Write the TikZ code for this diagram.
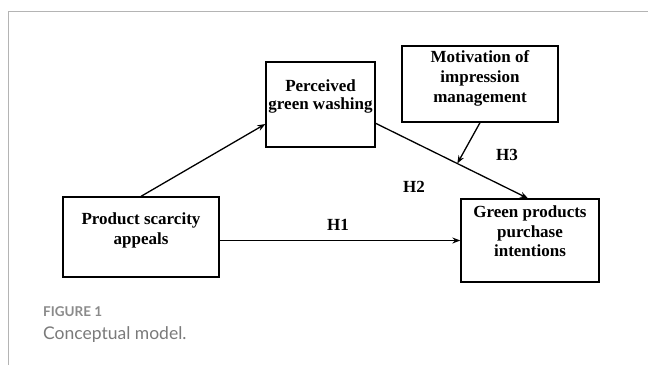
\documentclass[tikz,border=0pt]{standalone}
\usepackage{fontspec}
\setmainfont{Liberation Serif}
\newfontfamily\capfont{Lato}
\usetikzlibrary{arrows.meta}
\definecolor{framegray}{HTML}{B4B4B4}
\definecolor{capgray}{HTML}{8A8A8A}
\definecolor{capgrayb}{HTML}{7A7A7A}
\tikzset{
  box/.style={draw=black, line width=1.3pt, rectangle, inner sep=0pt},
  lbl/.style={font=\fontsize{17}{19.5}\selectfont\bfseries, align=center, inner sep=0pt, anchor=base},
  hyp/.style={font=\fontsize{17}{19.5}\selectfont\bfseries, inner sep=0pt, anchor=base west},
  arr/.style={draw=black, line width=1.3pt, -{Stealth[length=8pt,width=6pt]}},
  frame/.style={draw=framegray, line width=1.3pt}
}
\begin{document}
\begin{tikzpicture}[x=1pt,y=-1pt]
\useasboundingbox (0,0) rectangle (648,365);
% frame
\coordinate (fr1) at (8.5,365);
\coordinate (fr2) at (8.5,11.7);
\coordinate (fr3) at (648,11.7);
\draw[frame] (fr1) -- (fr2) -- (fr3);
% boxes
\node[box, minimum width=109pt, minimum height=85pt] (pgw) at (320.5,104.5) {};
\node[box, minimum width=156pt, minimum height=76pt] (mim) at (480,84) {};
\node[box, minimum width=156pt, minimum height=80pt] (psa) at (141,237) {};
\node[box, minimum width=138pt, minimum height=83pt] (gppi) at (530,240.5) {};
% box texts (anchor base = baseline of the last line)
\node[lbl] (pgwt) at (320.5,109.7) {Perceived\\[-1.5pt]green washing};
\node[lbl] (mimt) at (480,102) {Motivation of\\[0.5pt]impression\\[0.5pt]management};
\node[lbl] (psat) at (141,244) {Product scarcity\\[0.5pt]appeals};
\node[lbl] (gppit) at (530,256.5) {Green products\\purchase\\intentions};
% connectors
\draw[arr] (psa.north) -- ([yshift=-19.5pt]pgw.west);
\draw[arr] ([yshift=-18.8pt]pgw.east) -- coordinate[pos=0.536] (mod) ([xshift=-2pt]gppi.north);
\draw[arr] (mim.south) -- (mod);
\draw[arr] (psa.east |- gppi.west) -- (gppi.west);
% hypothesis labels
\node[hyp] (h1) at (327,230) {H1};
\node[hyp] (h2) at (403,192.7) {H2};
\node[hyp] (h3) at (496,160) {H3};
% caption
\node[inner sep=0pt, anchor=base west, text=capgray, font=\capfont\bfseries\fontsize{13.5}{16}\selectfont] (fig) at (43,316) {FIGURE 1};
\node[inner sep=0pt, anchor=base west, text=capgrayb, font=\capfont\fontsize{17.5}{21}\selectfont] (cap) at (43,339.5) {Conceptual model.};
\end{tikzpicture}
\end{document}
